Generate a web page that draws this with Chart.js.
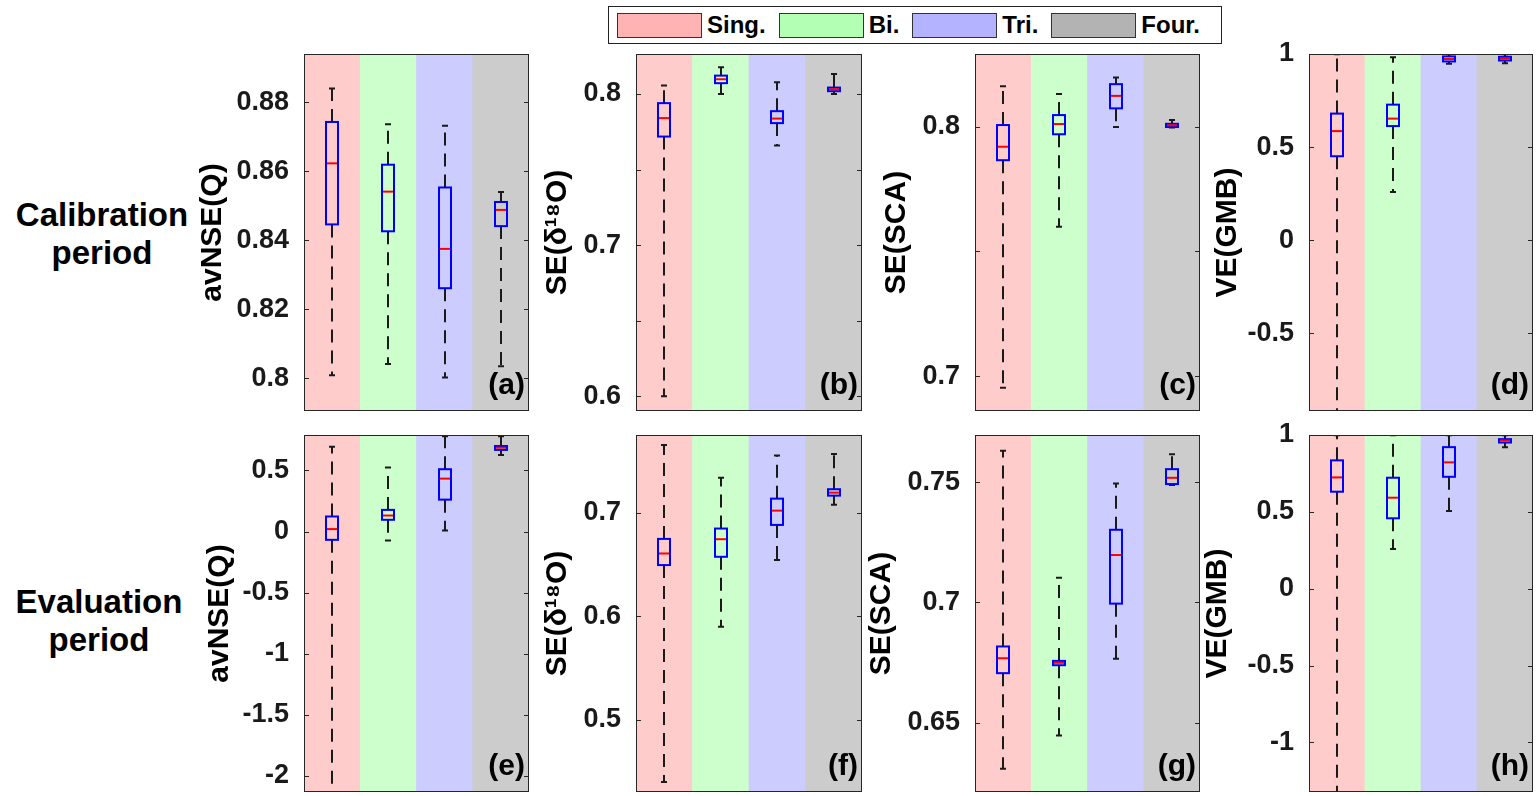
<!DOCTYPE html>
<html>
<head>
<meta charset="utf-8">
<script src="https://cdn.jsdelivr.net/npm/chart.js@4.4.0/dist/chart.umd.min.js"></script>
<style>
  body { margin: 0; background: #fff; width: 1540px; height: 796px; position: relative; overflow: hidden;
         font-family: "Liberation Sans", Arial, sans-serif; }
  canvas { position: absolute; }
  .row { position: absolute; left: 0; width: 204px; text-align: center; font-weight: bold;
         font-size: 33px; line-height: 38px; color: #000; }
  #legend { position: absolute; left: 608px; top: 6px; width: 614px; height: 38px; box-sizing: border-box;
            border: 1.5px solid #222; background: #fff; display: flex; align-items: center;
            padding-left: 8px; font-weight: bold; font-size: 24px; color: #000; z-index: 5; }
  #legend .sw { width: 85px; height: 25px; box-sizing: border-box; border: 1.5px solid #333; margin-right: 5px; }
  #legend .lb { margin-right: 13px; }
</style>
</head>
<body>
<div id="legend"></div>
<div class="row" style="top:196px">Calibration<br>period</div>
<div class="row" style="top:583px;left:-3px">Evaluation<br>period</div>
<script>
const groups = ['Sing.', 'Bi.', 'Tri.', 'Four.'];
const bandColors = ['#ffcccc', '#ccffcc', '#ccccff', '#cccccc'];
const legendColors = ['#ffb3b3', '#b3ffb3', '#b3b3ff', '#b3b3b3'];

// [lower whisker, q1, median, q3, upper whisker] for Sing., Bi., Tri., Four.
const calQ = [[0.8009, 0.8446, 0.8623, 0.8743, 0.8840], [0.8041, 0.8426, 0.8541, 0.8619, 0.8736],
              [0.8002, 0.8261, 0.8375, 0.8553, 0.8732], [0.8035, 0.8441, 0.8488, 0.8511, 0.8540]];
const calIso = [[0.600, 0.7718, 0.7840, 0.7939, 0.8055], [0.800, 0.8071, 0.8097, 0.8121, 0.8176],
                [0.7659, 0.7807, 0.7837, 0.7886, 0.8077], [0.800, 0.8018, 0.8031, 0.8042, 0.8132]];
const calSca = [[0.6953, 0.7866, 0.7920, 0.8007, 0.8163], [0.7599, 0.7970, 0.8011, 0.8047, 0.8132],
                [0.7999, 0.8074, 0.8124, 0.8171, 0.8198], [0.7997, 0.7999, 0.8006, 0.8012, 0.8027]];
const calGmb = [[-0.95, 0.451, 0.586, 0.680, 0.999], [0.259, 0.613, 0.653, 0.728, 0.983],
                [0.948, 0.960, 0.973, 0.987, 0.999], [0.950, 0.965, 0.975, 0.985, 0.999]];
const evaQ = [[-2.2, -0.068, 0.020, 0.123, 0.694], [-0.074, 0.096, 0.131, 0.177, 0.523],
              [0.008, 0.261, 0.433, 0.510, 0.780], [0.627, 0.668, 0.686, 0.700, 0.780]];
const evaIso = [[0.4396, 0.6493, 0.6605, 0.6746, 0.7653], [0.5898, 0.6573, 0.6743, 0.6846, 0.7338],
                [0.6541, 0.6881, 0.7019, 0.7135, 0.7553], [0.7077, 0.7164, 0.7193, 0.7226, 0.7566]];
const evaSca = [[0.6309, 0.6706, 0.6768, 0.6817, 0.7631], [0.6447, 0.6739, 0.6749, 0.6757, 0.7103],
                [0.6766, 0.6995, 0.7197, 0.7302, 0.7494], [0.7488, 0.7492, 0.7518, 0.7554, 0.7616]];
const evaGmb = [[-1.4, 0.631, 0.724, 0.835, 0.999], [0.259, 0.458, 0.592, 0.722, 0.999],
                [0.506, 0.728, 0.822, 0.921, 0.999], [0.921, 0.951, 0.964, 0.973, 0.999]];

// tick marks and the ones that carry a label
const ticksQcal = [0.8, 0.82, 0.84, 0.86, 0.88];
const ticksIsoCal = [0.6, 0.65, 0.7, 0.75, 0.8];
const labelsIsoCal = [0.6, 0.7, 0.8];
const ticksScaCal = [0.7, 0.75, 0.8];
const labelsScaCal = [0.7, 0.8];
const ticksGmb = [-1, -0.5, 0, 0.5, 1];
const ticksQeva = [-2, -1.5, -1, -0.5, 0, 0.5];
const ticksIsoEva = [0.5, 0.6, 0.7];
const ticksScaEva = [0.65, 0.7, 0.75];

const FONT = '"Liberation Sans", Arial, sans-serif';

// legend
const leg = document.getElementById('legend');
groups.forEach((g, i) => {
  const sw = document.createElement('div');
  sw.className = 'sw'; sw.style.background = legendColors[i];
  const lb = document.createElement('span');
  lb.className = 'lb'; lb.textContent = g;
  leg.appendChild(sw); leg.appendChild(lb);
});

const boxPlugin = {
  id: 'boxplot',
  afterDatasetsDraw(chart, args, opts) {
    const { ctx, chartArea: a, scales: { x, y } } = chart;
    ctx.save();
    ctx.beginPath();
    ctx.rect(a.left, a.top, a.right - a.left, a.bottom - a.top);
    ctx.clip();
    opts.stats.forEach((s, i) => {
      const cx = Math.round(x.getPixelForValue(i));
      const [lo, q1, md, q3, hi] = s.map(v => y.getPixelForValue(v));
      ctx.strokeStyle = '#1a1a1a';
      ctx.lineWidth = 2;
      ctx.setLineDash([13, 8]);
      ctx.beginPath();
      ctx.moveTo(cx, q3); ctx.lineTo(cx, hi);
      ctx.moveTo(cx, q1); ctx.lineTo(cx, lo);
      ctx.stroke();
      ctx.setLineDash([]);
      ctx.beginPath();
      ctx.moveTo(cx - 3, hi); ctx.lineTo(cx + 3, hi);
      ctx.moveTo(cx - 3, lo); ctx.lineTo(cx + 3, lo);
      ctx.stroke();
      ctx.strokeStyle = '#0000ff';
      ctx.strokeRect(cx - 6, q3, 12, q1 - q3);
      ctx.strokeStyle = '#ff0000';
      ctx.beginPath();
      ctx.moveTo(cx - 5, md); ctx.lineTo(cx + 5, md);
      ctx.stroke();
    });
    ctx.restore();

    // inward tick marks, frame and panel letter
    ctx.save();
    ctx.strokeStyle = '#262626';
    ctx.lineWidth = 1;
    y.ticks.forEach(t => {
      const py = Math.round(y.getPixelForValue(t.value)) + 0.5;
      ctx.beginPath();
      ctx.moveTo(a.left, py); ctx.lineTo(a.left + 5, py);
      ctx.moveTo(a.right, py); ctx.lineTo(a.right - 5, py);
      ctx.stroke();
    });
    ctx.strokeRect(a.left + 0.5, a.top + 0.5, a.right - a.left - 1, a.bottom - a.top - 1);
    ctx.fillStyle = '#000';
    ctx.font = 'bold 30px ' + FONT;
    ctx.textAlign = 'right';
    ctx.textBaseline = 'alphabetic';
    ctx.fillText('(' + opts.letter + ')', a.right - 4, a.bottom - 17);
    ctx.restore();
  }
};

const panels = [
  { letter: 'a', stats: calQ, title: 'avNSE(Q)', min: 0.7905, max: 0.894, ticks: ticksQcal, labels: ticksQcal, box: [304, 54, 529, 411], titleX: 213 },
  { letter: 'b', stats: calIso, title: 'SE(δ¹⁸O)', min: 0.5903, max: 0.8264, ticks: ticksIsoCal, labels: labelsIsoCal, box: [636, 54, 862, 411], titleX: 558 },
  { letter: 'c', stats: calSca, title: 'SE(SCA)', min: 0.686, max: 0.8292, ticks: ticksScaCal, labels: labelsScaCal, box: [975, 54, 1200, 411], titleX: 897 },
  { letter: 'd', stats: calGmb, title: 'VE(GMB)', min: -0.917, max: 1.0, ticks: ticksGmb.slice(1), labels: ticksGmb, box: [1309, 54, 1533, 411], titleX: 1228 },
  { letter: 'e', stats: evaQ, title: 'avNSE(Q)', min: -2.132, max: 0.79, ticks: ticksQeva, labels: ticksQeva, box: [304, 435, 529, 792], titleX: 220 },
  { letter: 'f', stats: evaIso, title: 'SE(δ¹⁸O)', min: 0.430, max: 0.775, ticks: ticksIsoEva, labels: ticksIsoEva, box: [636, 435, 862, 792], titleX: 558 },
  { letter: 'g', stats: evaSca, title: 'SE(SCA)', min: 0.6212, max: 0.7696, ticks: ticksScaEva, labels: ticksScaEva, box: [975, 435, 1200, 792], titleX: 882 },
  { letter: 'h', stats: evaGmb, title: 'VE(GMB)', min: -1.323, max: 1.0, ticks: ticksGmb, labels: ticksGmb, box: [1309, 435, 1533, 792], titleX: 1218 }
];

panels.forEach(p => {
  const [L, T, R, B] = p.box;
  const left = Math.round(p.titleX - 18);
  const axW = L - left;
  const cv = document.createElement('canvas');
  cv.width = R + 4 - left;
  cv.height = B - T + 36;
  cv.style.left = left + 'px';
  cv.style.top = (T - 18) + 'px';
  document.body.appendChild(cv);

  new Chart(cv.getContext('2d'), {
    type: 'bar',
    data: {
      labels: groups,
      datasets: [{
        data: groups.map(() => [p.min, p.max]),
        backgroundColor: bandColors,
        borderWidth: 0,
        barPercentage: 1,
        categoryPercentage: 1
      }]
    },
    options: {
      responsive: false,
      animation: false,
      devicePixelRatio: 1,
      layout: { padding: { top: 18, bottom: 18, left: 0, right: 4 } },
      plugins: {
        legend: { display: false },
        tooltip: { enabled: false },
        boxplot: { stats: p.stats, letter: p.letter }
      },
      scales: {
        x: { display: false },
        y: {
          min: p.min,
          max: p.max,
          afterBuildTicks: s => { s.ticks = p.ticks.map(v => ({ value: v })); },
          afterFit: s => { s.width = axW; s.paddingTop = 0; s.paddingBottom = 0; },
          grid: { display: false, drawTicks: false },
          border: { display: false },
          ticks: {
            padding: 15,
            color: '#1a1a1a',
            font: { size: 27, weight: 'bold', family: FONT },
            callback: v => p.labels.includes(v) ? String(+v.toFixed(3)) : ''
          },
          title: {
            display: true,
            text: p.title,
            padding: 0,
            color: '#000',
            font: { size: 30, weight: 'bold', family: FONT }
          }
        }
      }
    },
    plugins: [boxPlugin]
  });
});
</script>
</body>
</html>
